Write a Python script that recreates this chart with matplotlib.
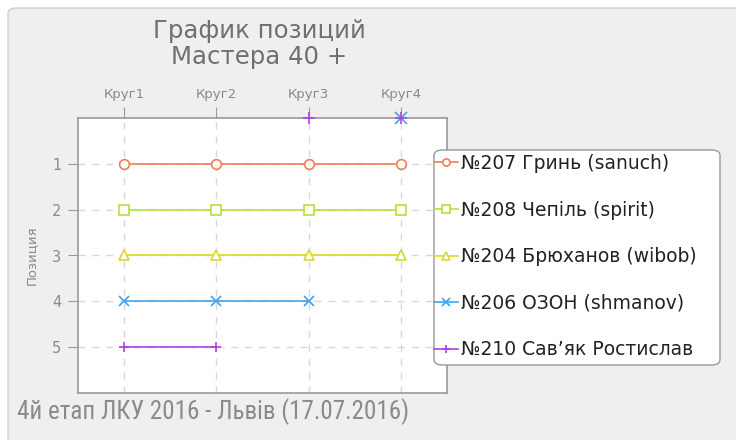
import numpy as np
import matplotlib
matplotlib.use("Agg")
import matplotlib.pyplot as plt
from matplotlib.patches import FancyBboxPatch
from matplotlib import font_manager

rounds = ["Круг1", "Круг2", "Круг3", "Круг4"]
labels = ["№207 Гринь (sanuch)", "№208 Чепіль (spirit)", "№204 Брюханов (wibob)",
          "№206 ОЗОН (shmanov)", "№210 Сав’як Ростислав"]
s207 = [1, 1, 1, 1]
s208 = [2, 2, 2, 2]
s204 = [3, 3, 3, 3]
s206 = [4, 4, 4, 0]
s210 = [5, 5, 0, 0]
series = [s207, s208, s204, s206, s210]
colors = ["#f07f55", "#b5e03c", "#dcd82a", "#3fa4ec", "#b23fe6"]
markers = ["o", "s", "^", "x", "+"]

names = {f.name for f in font_manager.fontManager.ttflist}
narrow, nsize = "DejaVu Sans", 14
for cand, sz in [("Roboto Condensed", 18), ("Open Sans Condensed", 18),
                 ("Liberation Sans Narrow", 17)]:
    if cand in names:
        narrow, nsize = cand, sz
        break

plt.rcParams['font.family'] = ['DejaVu Sans']
fig = plt.figure(figsize=(7.36, 4.4), dpi=100, facecolor="white")
bg = FancyBboxPatch((8 / 736, -10 / 440), 740 / 736, 442 / 440,
                    boxstyle="round,pad=0,rounding_size=0.012",
                    transform=fig.transFigure, facecolor="#efefef",
                    edgecolor="#d0d0d0", lw=1.0, zorder=-10)
fig.patches.append(bg)

ax = fig.add_axes([78 / 736, 1 - 393 / 440, 369 / 736, 275 / 440])
ax.set_facecolor("white")
x = np.arange(1, len(rounds) + 1)
for vals, c, m, lab in zip(series, colors, markers, labels):
    v = np.array(vals, dtype=float)
    line = np.where(v > 0, v, np.nan)
    ax.plot(x, line, color=c, lw=1.2, marker=m, markersize=7,
            markerfacecolor="white" if m in "os^" else c,
            markeredgewidth=1.2, label=lab, clip_on=False, zorder=3)
    zx = x[v == 0]
    ax.plot(zx, v[v == 0], ls="none", color=c, marker=m, markersize=8,
            markeredgewidth=1.2, clip_on=False, zorder=4)

ax.set_xlim(0.5, 4.5)
ax.set_ylim(6, 0)
ax.set_xticks(x)
ax.set_xticklabels(rounds)
ax.xaxis.tick_top()
ax.set_yticks([1, 2, 3, 4, 5])
ax.tick_params(axis="x", top=True, bottom=False, length=8, color="#999999",
               labelcolor="#8a8a8a", labelsize=9.5, pad=4)
ax.tick_params(axis="y", length=7, color="#999999", labelcolor="#8a8a8a",
               labelsize=10.5, pad=5)
ax.grid(True, color="#d8d8d8", ls=(0, (5, 5)), lw=1)
for sp in ax.spines.values():
    sp.set_color("#999999")
    sp.set_linewidth(1.2)
ax.set_ylabel("Позиция", color="#8a8a8a", fontsize=9.5, labelpad=10)

fig.text(259 / 736, 1 - 31 / 440, "График позиций", ha="center", va="center",
         fontsize=17.6, color="#707070")
fig.text(259 / 736, 1 - 57 / 440, "Мастера 40 +", ha="center", va="center",
         fontsize=17.6, color="#707070")
fig.text(17 / 736, 1 - 412 / 440, "4й етап ЛКУ 2016 - Львів (17.07.2016)",
         ha="left", va="center", fontsize=nsize, color="#8a8a8a",
         family=[narrow, "DejaVu Sans"])

# legend frame
lf = FancyBboxPatch((434 / 736, 1 - 365 / 440), 286 / 736, 215 / 440,
                    boxstyle="round,pad=0,rounding_size=0.012",
                    transform=fig.transFigure, facecolor="white",
                    edgecolor="#999999", lw=1.0, zorder=5)
fig.patches.append(lf)
h, l = ax.get_legend_handles_labels()
leg = fig.legend(h, l, loc="upper left", bbox_to_anchor=(434 / 736, 1 - 154 / 440),
                 fontsize=13.5, frameon=False, handlelength=1.3, handletextpad=0.15,
                 labelspacing=1.47, borderpad=0.0, borderaxespad=0, markerscale=0.75)
leg.set_zorder(6)
for t in leg.get_texts():
    t.set_color("#222222")

fig.savefig("out.png", dpi=100, facecolor=fig.get_facecolor())
